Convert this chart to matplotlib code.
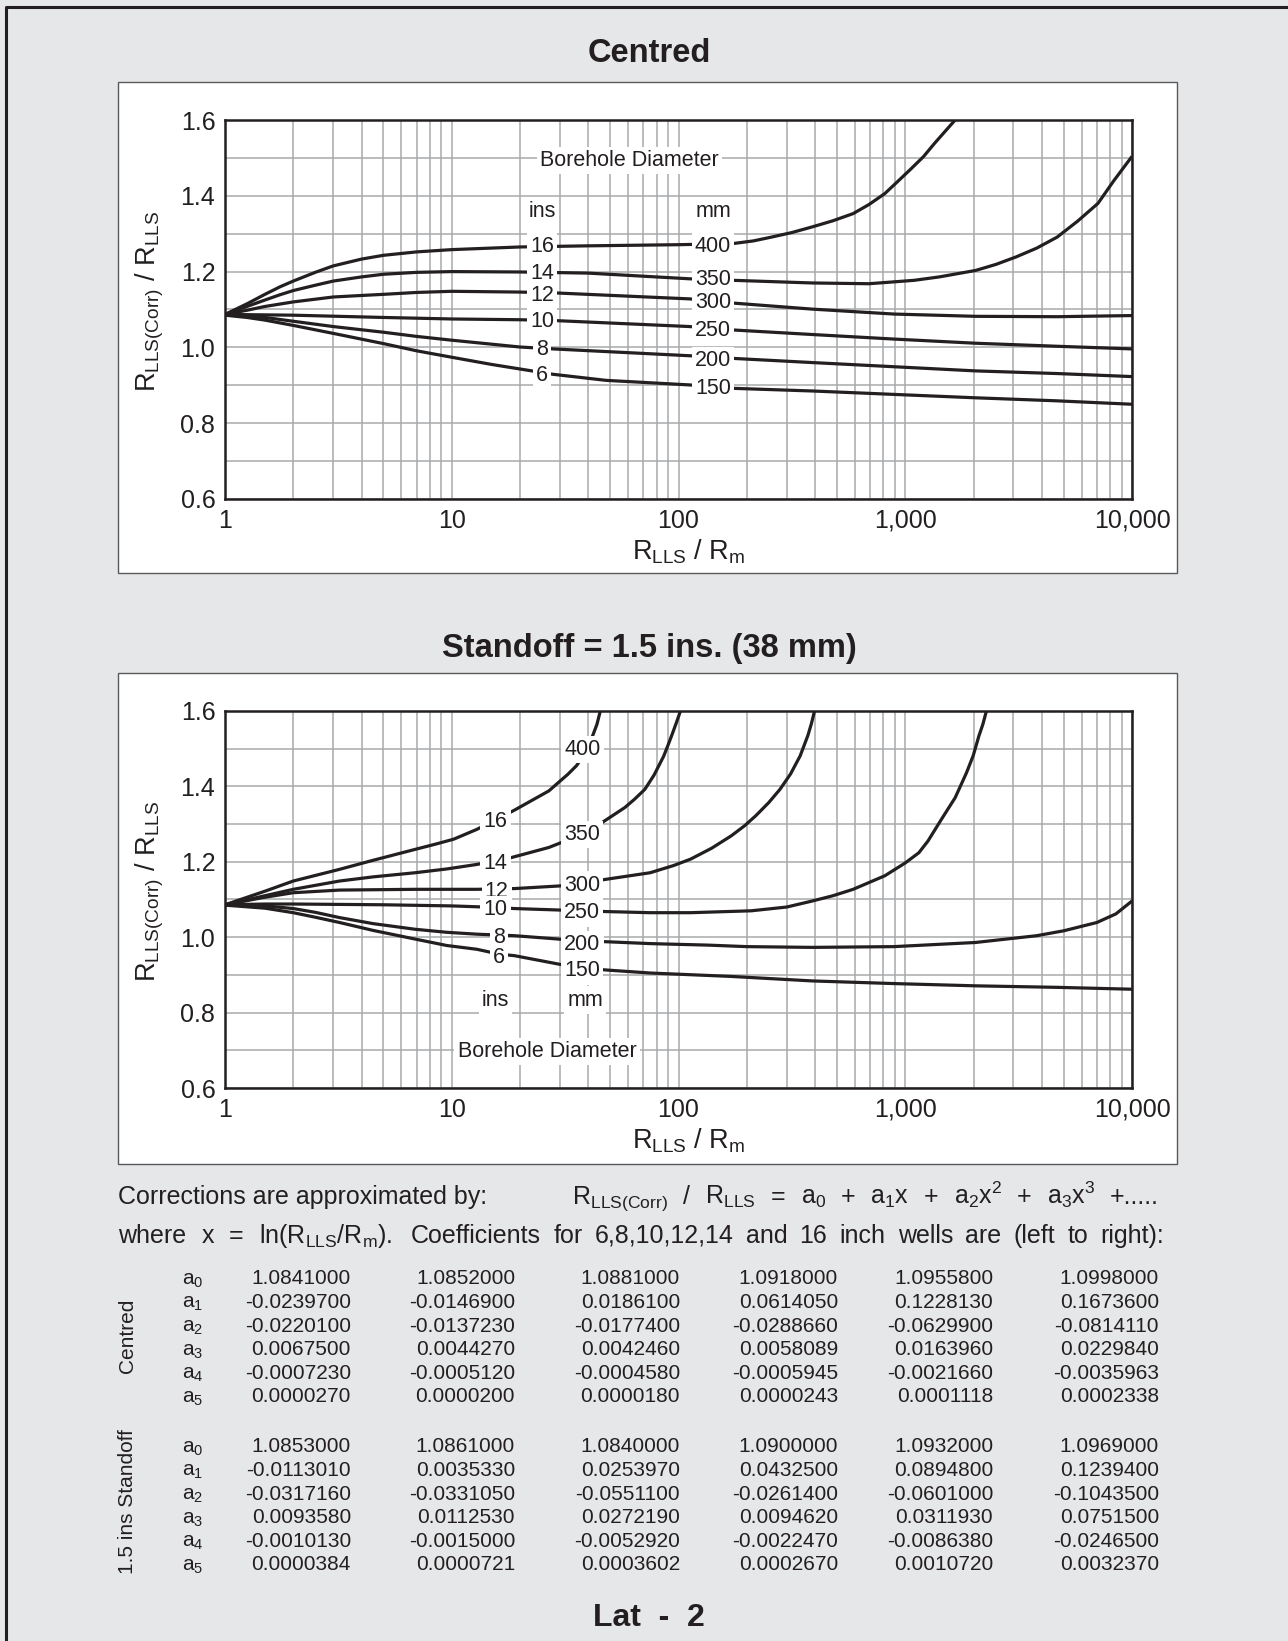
import matplotlib
matplotlib.use("Agg")
import matplotlib.pyplot as plt
from matplotlib.patches import Rectangle
from matplotlib.lines import Line2D
from matplotlib.ticker import FixedLocator, NullFormatter

# ======================
# |       DATA         |
# ======================
# x = R_LLS / R_m, y = R_LLS(Corr) / R_LLS

# Centred
centred_6_r = [1, 1.25, 1.5, 2, 3, 5, 7, 10, 15, 28, 48, 112, 174, 389, 891, 2042, 4677, 10000]
centred_6_y = [1.085, 1.079, 1.072, 1.058, 1.037, 1.010, 0.991, 0.974, 0.955, 0.929, 0.913, 0.901,
               0.892, 0.885, 0.876, 0.867, 0.859, 0.850]

centred_8_r = [1, 1.25, 1.5, 2, 3, 5, 7, 10, 20, 28, 112, 174, 389, 891, 2042, 4677, 10000]
centred_8_y = [1.086, 1.083, 1.079, 1.069, 1.055, 1.040, 1.029, 1.019, 1.001, 0.996, 0.978, 0.971,
               0.960, 0.949, 0.938, 0.931, 0.923]

centred_10_r = [1, 2, 5, 10, 20, 28, 112, 174, 389, 891, 2042, 4677, 10000]
centred_10_y = [1.087, 1.085, 1.079, 1.075, 1.073, 1.071, 1.055, 1.046, 1.034, 1.022, 1.011, 1.003, 0.996]

centred_12_r = [1, 1.25, 1.5, 2, 3, 4, 5, 7, 10, 20, 28, 112, 174, 389, 891, 2042, 4677, 10000]
centred_12_y = [1.087, 1.098, 1.108, 1.120, 1.133, 1.137, 1.140, 1.145, 1.148, 1.146, 1.144, 1.128,
                1.117, 1.101, 1.088, 1.082, 1.081, 1.084]

centred_14_r = [1, 1.25, 1.5, 1.75, 2, 2.5, 3, 4, 5, 7, 10, 20, 40, 112, 174, 389, 692, 1096, 1413,
                2042, 2512, 3090, 3802, 4677, 5754, 7079, 8318, 10000]
centred_14_y = [1.087, 1.108, 1.125, 1.139, 1.150, 1.164, 1.175, 1.186, 1.193, 1.198, 1.200, 1.199,
                1.196, 1.181, 1.177, 1.170, 1.168, 1.177, 1.186, 1.203, 1.219, 1.239, 1.262, 1.291,
                1.333, 1.380, 1.440, 1.504]

centred_16_r = [1, 1.25, 1.5, 1.75, 2, 2.5, 3, 4, 5, 7, 10, 20, 40, 100, 174, 214, 257, 316, 389, 479,
                589, 692, 813, 912, 1047, 1202, 1349, 1514, 1660]
centred_16_y = [1.087, 1.115, 1.140, 1.160, 1.175, 1.198, 1.215, 1.233, 1.243, 1.252, 1.258, 1.265,
                1.268, 1.271, 1.274, 1.281, 1.291, 1.303, 1.318, 1.334, 1.353, 1.377, 1.406, 1.434,
                1.468, 1.503, 1.539, 1.573, 1.600]

# Standoff 1.5 ins
standoff_6_r = [1, 1.5, 2, 2.5, 3.2, 4.5, 6.9, 9.5, 12.9, 16.2, 18.9, 30, 38, 48, 75, 170, 389, 891,
                2042, 4677, 10000]
standoff_6_y = [1.085, 1.077, 1.065, 1.053, 1.039, 1.018, 0.995, 0.978, 0.968, 0.955, 0.951, 0.928,
                0.918, 0.913, 0.905, 0.896, 0.884, 0.877, 0.871, 0.867, 0.862]

standoff_8_r = [1, 1.5, 2, 2.5, 3.2, 4.5, 6.9, 9.5, 12.9, 18.9, 38, 48, 75, 135, 200, 389, 891, 2042,
                3800, 5000, 7000, 8500, 10000]
standoff_8_y = [1.086, 1.083, 1.076, 1.066, 1.052, 1.036, 1.021, 1.013, 1.008, 1.004, 0.990, 0.988,
                0.983, 0.979, 0.975, 0.973, 0.975, 0.986, 1.004, 1.017, 1.039, 1.062, 1.096]

standoff_10_r = [1, 1.5, 2, 5, 10, 15.6, 18.9, 38, 48, 75, 113, 209, 300, 389, 480, 589, 813, 1000,
                 1148, 1259, 1445, 1660, 1862, 1995, 2113, 2200, 2280]
standoff_10_y = [1.086, 1.088, 1.088, 1.086, 1.083, 1.079, 1.076, 1.070, 1.068, 1.065, 1.065, 1.070,
                 1.080, 1.096, 1.110, 1.127, 1.163, 1.197, 1.224, 1.255, 1.313, 1.370, 1.436, 1.482,
                 1.534, 1.565, 1.600]

standoff_12_r = [1, 1.5, 2, 3.2, 6.9, 12.9, 18.9, 30, 46, 75, 95, 113, 140, 171, 196, 219, 250, 280,
                 312, 344, 372, 385, 398]
standoff_12_y = [1.086, 1.106, 1.118, 1.125, 1.127, 1.127, 1.129, 1.136, 1.152, 1.171, 1.190, 1.207,
                 1.236, 1.269, 1.296, 1.322, 1.357, 1.392, 1.433, 1.481, 1.535, 1.565, 1.600]

standoff_14_r = [1, 1.5, 2, 3.2, 4.5, 6.9, 9.5, 12.9, 17.5, 26.8, 31.6, 38, 46, 58, 64, 71, 78, 86,
                 90, 94, 98, 102]
standoff_14_y = [1.086, 1.110, 1.127, 1.149, 1.160, 1.171, 1.181, 1.193, 1.208, 1.238, 1.255, 1.278,
                 1.304, 1.344, 1.366, 1.392, 1.430, 1.480, 1.510, 1.540, 1.570, 1.600]

standoff_16_r = [1, 1.5, 2, 3.2, 4.5, 6.9, 8.5, 10.2, 12.9, 18.9, 26.8, 29.5, 32.5, 35.5, 38, 39.8,
                 41.8, 43.7, 45.2]
standoff_16_y = [1.086, 1.122, 1.149, 1.180, 1.204, 1.233, 1.247, 1.260, 1.286, 1.337, 1.388, 1.410,
                 1.432, 1.455, 1.481, 1.505, 1.534, 1.565, 1.600]

# Tick labels
x_ticks = [1, 10, 100, 1000, 10000]
x_tick_labels = ["1", "10", "100", "1,000", "10,000"]
y_ticks = [0.6, 0.8, 1.0, 1.2, 1.4, 1.6]
y_tick_labels = ["0.6", "0.8", "1.0", "1.2", "1.4", "1.6"]

# Polynomial coefficients (rows a0..a5, columns 6,8,10,12,14,16 inch)
centred_coefs = [
    [1.0841000, 1.0852000, 1.0881000, 1.0918000, 1.0955800, 1.0998000],
    [-0.0239700, -0.0146900, 0.0186100, 0.0614050, 0.1228130, 0.1673600],
    [-0.0220100, -0.0137230, -0.0177400, -0.0288660, -0.0629900, -0.0814110],
    [0.0067500, 0.0044270, 0.0042460, 0.0058089, 0.0163960, 0.0229840],
    [-0.0007230, -0.0005120, -0.0004580, -0.0005945, -0.0021660, -0.0035963],
    [0.0000270, 0.0000200, 0.0000180, 0.0000243, 0.0001118, 0.0002338],
]
standoff_coefs = [
    [1.0853000, 1.0861000, 1.0840000, 1.0900000, 1.0932000, 1.0969000],
    [-0.0113010, 0.0035330, 0.0253970, 0.0432500, 0.0894800, 0.1239400],
    [-0.0317160, -0.0331050, -0.0551100, -0.0261400, -0.0601000, -0.1043500],
    [0.0093580, 0.0112530, 0.0272190, 0.0094620, 0.0311930, 0.0751500],
    [-0.0010130, -0.0015000, -0.0052920, -0.0022470, -0.0086380, -0.0246500],
    [0.0000384, 0.0000721, 0.0003602, 0.0002670, 0.0010720, 0.0032370],
]


# ======================
# |      SETTINGS      |
# ======================
plt.rcParams['font.family'] = ['Liberation Sans', 'DejaVu Sans']
plt.rcParams['mathtext.fontset'] = 'custom'
plt.rcParams['mathtext.rm'] = 'Liberation Sans'
plt.rcParams['mathtext.it'] = 'Liberation Sans:italic'
plt.rcParams['mathtext.bf'] = 'Liberation Sans:bold'

W, H = 1288, 1641
BG = '#e6e7e8'
GRID = '#a7a9ac'
INK = '#231f20'

fig = plt.figure(figsize=(W / 100, H / 100), dpi=100, facecolor=BG)


def fx(px):
    return px / W


def fy(py):
    return 1 - py / H


def panel(top, bottom):
    # white box behind each chart
    fig.add_artist(Rectangle((fx(118), fy(bottom)), fx(1177) - fx(118), (bottom - top) / H,
                             transform=fig.transFigure, facecolor='white',
                             edgecolor='#58595b', lw=1.0, zorder=-1))


def make_axes(top, bottom):
    ax = fig.add_axes([fx(225), fy(bottom), fx(1132) - fx(225), (bottom - top) / H])
    ax.set_facecolor('white')
    ax.set_xscale('log')
    ax.set_xlim(1, 10000)
    ax.set_ylim(0.6, 1.6)
    ax.set_xticks(x_ticks)
    ax.set_xticklabels(x_tick_labels)
    ax.xaxis.set_minor_locator(FixedLocator([m * 10 ** d for d in range(4) for m in range(2, 10)]))
    ax.xaxis.set_minor_formatter(NullFormatter())
    ax.set_yticks(y_ticks)
    ax.set_yticklabels(y_tick_labels)
    ax.set_yticks([0.7, 0.9, 1.1, 1.3, 1.5], minor=True)
    ax.grid(True, which='both', color=GRID, lw=1.1)
    ax.set_axisbelow(True)
    ax.tick_params(which='both', length=0, labelsize=18, colors=INK)
    ax.tick_params(axis='x', pad=7)
    ax.tick_params(axis='y', pad=7)
    for s in ax.spines.values():
        s.set_linewidth(1.8)
        s.set_color(INK)
        s.set_zorder(5)
    # axis labels
    fig.text(fx(689), fy(bottom + 53), r'$\mathregular{R_{LLS}\ /\ R_m}$',
             ha='center', va='center', fontsize=19.5, color=INK)
    fig.text(fx(150), fy((top + bottom) / 2 - 8), r'$\mathregular{R_{LLS(Corr)}\ /\ R_{LLS}}$',
             ha='center', va='center', fontsize=19.5, rotation=90, color=INK)
    return ax


def label(ax, x, y, s, size=15.5):
    ax.text(x, y, s, ha='center', va='center_baseline', fontsize=size, color=INK, zorder=6,
            bbox=dict(boxstyle='square,pad=0.15', fc='white', ec='none'))


def justified(words, x0, x1, yb, size):
    # spread words evenly between x0 and x1 (pixel coords)
    texts = [fig.text(fx(x0), fy(yb), w, ha='left', va='baseline', fontsize=size, color=INK)
             for w in words]
    r = fig.canvas.get_renderer()
    widths = [t.get_window_extent(r).width for t in texts]
    gap = (x1 - x0 - sum(widths)) / (len(words) - 1)
    x = x0
    for t, w in zip(texts, widths):
        t.set_x(fx(x))
        x += w + gap


# ======================
# |     BACKGROUND     |
# ======================
fig.add_artist(Line2D([fx(6), fx(6), fx(1288)], [fy(1641), fy(7), fy(7)],
                      transform=fig.transFigure, color=INK, lw=2.2))
panel(82, 573)
panel(673, 1164)

# ======================
# |      CENTRED       |
# ======================
fig.text(fx(649), fy(53), 'Centred', ha='center', va='center', fontsize=23.5,
         fontweight='bold', color=INK)
ax1 = make_axes(120, 499)
for r, y in [(centred_6_r, centred_6_y), (centred_8_r, centred_8_y),
             (centred_10_r, centred_10_y), (centred_12_r, centred_12_y),
             (centred_14_r, centred_14_y), (centred_16_r, centred_16_y)]:
    ax1.plot(r, y, color=INK, lw=2.3, solid_capstyle='butt', solid_joinstyle='round', zorder=3)

label(ax1, 61, 1.5, 'Borehole Diameter')
label(ax1, 25, 1.365, 'ins')
label(ax1, 142, 1.365, 'mm')
for s, yv in [('16', 1.272), ('14', 1.202), ('12', 1.144), ('10', 1.074), ('8', 1.000), ('6', 0.933)]:
    label(ax1, 25, yv, s)
for s, yv in [('400', 1.273), ('350', 1.185), ('300', 1.125), ('250', 1.052), ('200', 0.972), ('150', 0.897)]:
    label(ax1, 142, yv, s)

# ======================
# |      STANDOFF      |
# ======================
fig.text(fx(649), fy(649), 'Standoff = 1.5 ins. (38 mm)', ha='center', va='center',
         fontsize=23.5, fontweight='bold', color=INK)
ax2 = make_axes(711, 1088)
for r, y in [(standoff_6_r, standoff_6_y), (standoff_8_r, standoff_8_y),
             (standoff_10_r, standoff_10_y), (standoff_12_r, standoff_12_y),
             (standoff_14_r, standoff_14_y), (standoff_16_r, standoff_16_y)]:
    ax2.plot(r, y, color=INK, lw=2.3, solid_capstyle='butt', solid_joinstyle='round', zorder=3)

for s, xv, yv in [('16', 15.6, 1.313), ('14', 15.6, 1.202), ('12', 15.8, 1.129),
                  ('10', 15.6, 1.079), ('8', 16.2, 1.005), ('6', 16.2, 0.953)]:
    label(ax2, xv, yv, s)
for s, yv in [('400', 1.505), ('350', 1.279), ('300', 1.145), ('250', 1.071), ('200', 0.987), ('150', 0.917)]:
    label(ax2, 37.6, yv, s)
label(ax2, 15.6, 0.84, 'ins')
label(ax2, 38.7, 0.84, 'mm')
label(ax2, 26.3, 0.703, 'Borehole Diameter')

# ======================
# |   COEFFICIENTS     |
# ======================
fig.text(fx(118), fy(1204), 'Corrections are approximated by:', ha='left', va='baseline',
         fontsize=18, color=INK)
justified([r'$\mathregular{R_{LLS(Corr)}}$', '/', r'$\mathregular{R_{LLS}}$', '=',
           r'$\mathregular{a_0}$', '+', r'$\mathregular{a_1}$x', '+', r'$\mathregular{a_2x^2}$',
           '+', r'$\mathregular{a_3x^3}$', '+.....'], 572, 1159, 1204, 18)
justified(['where', 'x', '=', r'ln($\mathregular{R_{LLS}/R_m}$).'], 118, 392, 1243, 18)
justified('Coefficients for 6,8,10,12,14 and 16 inch wells are (left to right):'.split(),
          411, 1164, 1243, 18)

col_right = [351, 515, 680, 838, 993, 1159]
for coefs, y0, name, yc in [(centred_coefs, 1277, 'Centred', 1336),
                            (standoff_coefs, 1445, '1.5 ins Standoff', 1502)]:
    fig.text(fx(128), fy(yc), name, ha='center', va='center', rotation=90,
             fontsize=15, color=INK)
    for i, row in enumerate(coefs):
        yb = y0 + i * 23.6 + 7.5
        fig.text(fx(182), fy(yb), r'$\mathregular{a_%d}$' % i, ha='left', va='baseline',
                 fontsize=15, color=INK)
        for xr, v in zip(col_right, row):
            fig.text(fx(xr), fy(yb), f'{v:.7f}', ha='right', va='baseline',
                     fontsize=15, color=INK)

fig.text(fx(649), fy(1618), 'Lat  -  2', ha='center', va='center', fontsize=23,
         fontweight='bold', color=INK)

fig.savefig('out.png', dpi=100, facecolor=BG)
